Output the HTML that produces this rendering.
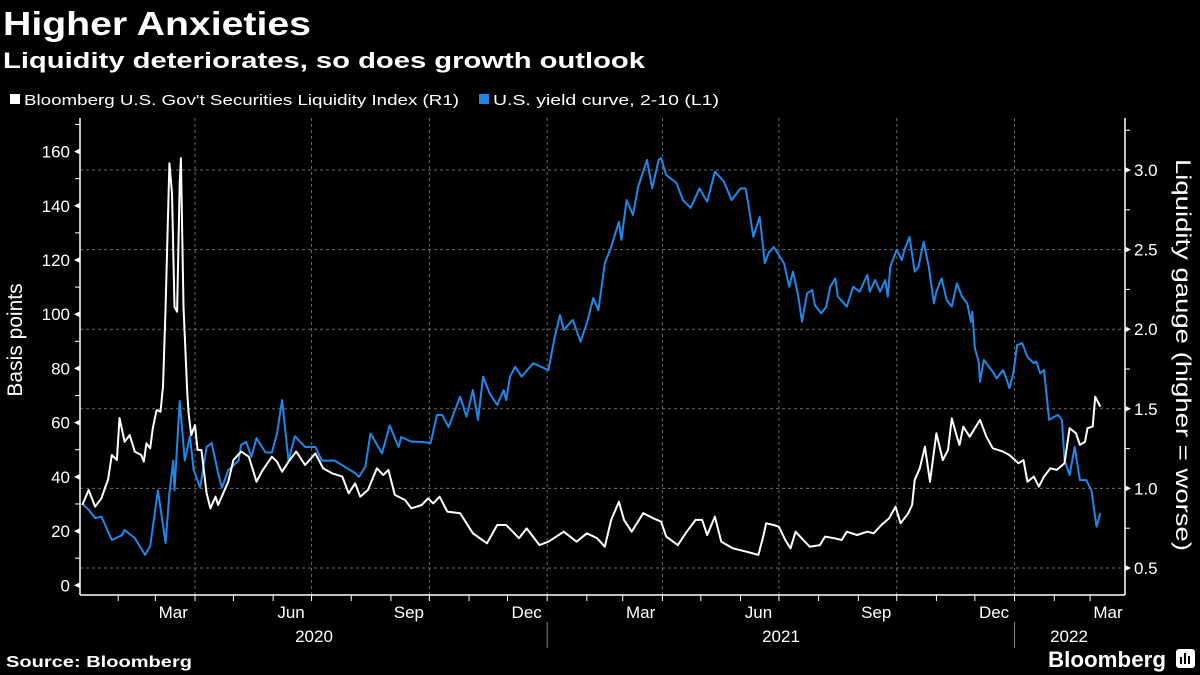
<!DOCTYPE html>
<html><head><meta charset="utf-8">
<style>
html,body{margin:0;padding:0;background:#000;}
svg{display:block;font-family:"Liberation Sans",sans-serif;}
</style></head>
<body>
<svg id="chart" width="1200" height="675" viewBox="0 0 1200 675" xmlns="http://www.w3.org/2000/svg">
<rect x="0" y="0" width="1200" height="675" fill="#000"/>
<text x="3" y="35" fill="#fff" font-size="33" font-weight="bold" textLength="308" lengthAdjust="spacingAndGlyphs">Higher Anxieties</text>
<text x="3" y="68" fill="#fff" font-size="22" font-weight="bold" textLength="642" lengthAdjust="spacingAndGlyphs">Liquidity deteriorates, so does growth outlook</text>
<g>
<g>
<rect x="10" y="94" width="10" height="10" fill="#fff"/>
<text x="24" y="105" fill="#fff" font-size="15" textLength="435" lengthAdjust="spacingAndGlyphs">Bloomberg U.S. Gov't Securities Liquidity Index (R1)</text>
</g>
<g>
<rect x="479" y="94" width="10" height="10" fill="#1f87e8"/>
<text x="493" y="105" fill="#fff" font-size="15" textLength="226" lengthAdjust="spacingAndGlyphs">U.S. yield curve, 2-10 (L1)</text>
</g>
</g>
<g id="grid"></g>
<g id="axes"></g>
<g id="series"></g>
<text transform="translate(22,340) rotate(-90)" text-anchor="middle" fill="#fff" font-size="21">Basis points</text>
<text transform="translate(1176,355) rotate(90)" text-anchor="middle" fill="#fff" font-size="21" textLength="392" lengthAdjust="spacingAndGlyphs">Liquidity gauge (higher = worse)</text>
<text x="6" y="667" fill="#fff" font-size="16" font-weight="bold" textLength="186" lengthAdjust="spacingAndGlyphs">Source: Bloomberg</text>
<text x="1048" y="667" fill="#fff" font-size="22" font-weight="bold" textLength="118" lengthAdjust="spacingAndGlyphs">Bloomberg</text>
<g>
<rect x="1176" y="649" width="19" height="19" rx="3" fill="#fff"/>
<rect x="1180" y="657" width="2" height="7" fill="#000"/><rect x="1184" y="653" width="2" height="11" fill="#000"/><rect x="1188" y="656" width="2" height="8" fill="#000"/>
</g>
</svg>
<script>
// Yield curve 2-10 (bp), days since 2020-01-01
const blueDays = [3,8,13,18,26,34,36,44,52,56,62,68,71,74,75,79,83,87,90,95,100,104,109,112,117,125,127,131,135,139,146,151,155,159,164,169,177,185,190,200,208,216,219,224,228,237,243,250,252,260,267,275,280,284,289,298,303,308,312,316,321,327,332,334,337,341,346,355,367,372,376,379,386,392,397,402,406,411,416,422,424,428,433,437,444,448,453,455,459,467,472,478,485,491,497,504,510,517,521,523,527,532,536,539,543,547,551,555,558,562,565,569,573,575,580,584,587,591,593,600,605,610,616,618,622,626,630,632,634,639,643,645,649,653,656,660,664,668,670,674,678,682,686,690,694,697,698,700,703,704,707,711,714,717,722,725,727,730,733,737,741,746,748,751,754,758,762,765,768,770,774,778,782,787,791,795,798];
const blueValues = [30.2,27.8,24.8,25.3,16.7,18.5,20.4,17.4,11.2,14.5,35,15.6,34,46,35,68,46,55,42.5,36,51,52.5,41.4,36,42.5,46,51.8,52.9,47.4,54.3,49,49,56,68.3,46,55,51,51,46,46,43.7,41.4,40,43.7,56,48.7,59,51,54.7,53,52.9,52.5,62.8,62.8,58.4,69.6,62.2,72,61,77,70.9,66.5,72,68.3,77,80.6,77,81.9,79.4,91.7,99.7,94.2,97.9,89.9,96.7,106,101.5,118.8,124.8,134.1,127.4,142.1,136.6,147,156.9,146.4,156.9,157.6,151.3,148.4,142.1,139.2,146.4,141.5,152.6,148.9,142.1,146.4,146.4,141,128.5,135.9,118.8,122.7,124.8,121.8,118.7,110.1,115.7,107,97.2,107.7,108.9,103.4,100.3,102.8,110.1,113.2,106.5,102.8,110.1,108.3,114.5,108.3,112.6,108.3,112.6,106.5,117.5,123.7,120,123.7,128.5,115.7,117.5,126.7,117.5,104,108.3,113.2,105.2,102.8,111.4,106.5,104,97.2,100.9,87.4,82.5,75.1,83.1,80.6,78.8,76.3,79.4,75.7,72.7,78.2,88.6,89.3,84.3,81.9,82.5,78.2,79.4,61,62.2,62.8,61,46.2,40.7,51.1,38.8,38.8,35,21.6,26.6];
// Liquidity index (gauge), days since 2020-01-01
const whiteDays = [3,8,13,18,21,23,26,30,32,36,40,44,49,51,53,56,58,61,64,66,68,71,73,75,77,79,80,82,85,86,88,91,93,96,100,103,107,109,113,117,121,127,133,139,144,151,155,159,164,170,177,185,191,198,206,211,216,220,226,233,238,242,247,255,260,268,273,277,282,288,298,308,319,327,334,344,350,360,367,379,389,397,405,411,416,422,426,432,441,449,455,459,468,475,482,487,491,497,502,511,522,531,535,537,543,547,552,556,560,566,571,579,583,590,596,600,608,616,621,627,633,638,642,648,651,653,657,661,665,670,675,679,682,686,688,691,696,704,709,714,722,727,734,738,741,746,750,754,759,764,770,774,779,782,786,788,792,794,798];
const whiteValues = [0.896,0.99,0.885,0.938,1.011,1.053,1.21,1.178,1.442,1.293,1.335,1.231,1.21,1.168,1.283,1.252,1.378,1.492,1.482,1.639,2.141,3.042,2.854,2.141,2.11,2.916,3.074,2.141,1.597,1.472,1.335,1.398,1.241,1.241,0.969,0.875,0.948,0.896,0.969,1.042,1.178,1.231,1.199,1.042,1.116,1.199,1.168,1.105,1.168,1.231,1.147,1.22,1.126,1.095,1.074,0.969,1.032,0.948,0.99,1.126,1.084,1.116,0.959,0.927,0.875,0.896,0.938,0.906,0.948,0.854,0.844,0.718,0.655,0.77,0.77,0.687,0.749,0.644,0.665,0.728,0.665,0.718,0.687,0.634,0.802,0.916,0.802,0.728,0.844,0.812,0.791,0.697,0.644,0.728,0.802,0.802,0.707,0.822,0.665,0.624,0.602,0.582,0.707,0.781,0.77,0.759,0.676,0.624,0.728,0.676,0.634,0.644,0.697,0.687,0.676,0.728,0.707,0.728,0.718,0.77,0.812,0.885,0.781,0.844,0.896,1.053,1.126,1.262,1.042,1.346,1.178,1.241,1.44,1.325,1.273,1.388,1.325,1.43,1.325,1.252,1.231,1.21,1.158,1.178,1.042,1.074,1.011,1.074,1.126,1.116,1.158,1.378,1.346,1.273,1.293,1.378,1.388,1.576,1.513];
const leftTicks = [0,20,40,60,80,100,120,140,160];
const rightTicks = [0.5,1.0,1.5,2.0,2.5,3.0];
const monthLabels = ["Mar","Jun","Sep","Dec","Mar","Jun","Sep","Dec","Mar"];
const monthLabelDays = [74,166,258,350,439,531,623,715,804];
const yearLabels = ["2020","2021","2022"];

const NS = "http://www.w3.org/2000/svg";
const X0 = 80, X1 = 1125, YB = 595, YT = 118;
function xDay(d){ return 78.5 + d * 1.2805; }
function yLeft(v){ return 585.3 - v * 2.711; }
function yRight(v){ return 568 - (v - 0.5) * 159.2; }
function mk(tag, attrs, parent){
  const e = document.createElementNS(NS, tag);
  for (const k in attrs) e.setAttribute(k, attrs[k]);
  parent.appendChild(e);
  return e;
}
const grid = document.getElementById('grid');
const axes = document.getElementById('axes');
const series = document.getElementById('series');

// horizontal gridlines at right ticks
rightTicks.forEach(function(v){
  const l = mk('line', {x1:X0, x2:X1, y1:yRight(v), y2:yRight(v), stroke:'#6a6a6a', 'stroke-width':1, 'stroke-dasharray':'3,3'}, grid);
  
  
});
// month boundaries (days since 2020-01-01)
const monthStarts = [];
(function(){
  const base = Date.UTC(2020,0,1);
  for (let y=2020; y<=2022; y++) for (let m=0; m<12; m++){
    const d = (Date.UTC(y,m,1) - base)/86400000;
    if (xDay(d) > X0 && xDay(d) < X1) monthStarts.push({d:d, m:m, y:y});
  }
})();
monthStarts.forEach(function(ms){
  const x = xDay(ms.d);
  const t = mk('line', {x1:x, x2:x, y1:YB, y2:YB+6, stroke:'#fff', 'stroke-width':1}, axes);
  
  
  if (ms.m % 3 === 0){
    const g = mk('line', {x1:x, x2:x, y1:YT, y2:YB, stroke:'#6a6a6a', 'stroke-width':1, 'stroke-dasharray':'3,3'}, grid);
    
    
  }
  if (ms.m === 0){
    const s = mk('line', {x1:x, x2:x, y1:622, y2:648, stroke:'#888', 'stroke-width':1}, axes);
    
    
  }
});
monthLabels.forEach(function(lbl, i){
  const t = mk('text', {x:xDay(monthLabelDays[i]), y:618, fill:'#fff', 'font-size':17, 'text-anchor':'middle'}, axes);
  t.textContent = lbl;
  
  
});
const yearX = [314, 781, 1069];
yearLabels.forEach(function(lbl, i){
  const t = mk('text', {x:yearX[i], y:642, fill:'#fff', 'font-size':17, 'text-anchor':'middle'}, axes);
  t.textContent = lbl;
  
  
});
// axis lines
const xa = mk('line', {x1:X0, x2:X1, y1:YB, y2:YB, stroke:'#fff', 'stroke-width':1.5}, axes);


const la = mk('line', {x1:X0, x2:X0, y1:YT, y2:YB, stroke:'#fff', 'stroke-width':1.5}, axes);


const ra = mk('line', {x1:X1, x2:X1, y1:YT, y2:YB, stroke:'#fff', 'stroke-width':1.5}, axes);


// left ticks
for (let v=0; v<=170; v+=10){
  const y = yLeft(v);
  if (y < YT) break;
  const major = leftTicks.indexOf(v) >= 0;
  if (major){
    const p = mk('path', {d:'M'+X0+' '+(y-3)+' L'+(X0-6)+' '+y+' L'+X0+' '+(y+3)+' Z', fill:'#fff'}, axes);
    
    
  } else {
    const p = mk('line', {x1:X0-5, x2:X0, y1:y, y2:y, stroke:'#fff', 'stroke-width':1}, axes);
    
    
  }
}
leftTicks.forEach(function(v){
  const t = mk('text', {x:X0-10, y:yLeft(v)+6, fill:'#fff', 'font-size':17, 'text-anchor':'end'}, axes);
  t.textContent = String(v);
  
  
});
// right ticks
for (let v=0.5; v<=3.3; v+=0.25){
  const y = yRight(v);
  if (y < YT) break;
  const major = Math.abs(v*2 - Math.round(v*2)) < 1e-6;
  if (major){
    const p = mk('path', {d:'M'+X1+' '+(y-3)+' L'+(X1+6)+' '+y+' L'+X1+' '+(y+3)+' Z', fill:'#fff'}, axes);
    
    
  } else {
    const p = mk('line', {x1:X1, x2:X1+5, y1:y, y2:y, stroke:'#fff', 'stroke-width':1}, axes);
    
    
  }
}
rightTicks.forEach(function(v){
  const t = mk('text', {x:X1+9, y:yRight(v)+6, fill:'#fff', 'font-size':17}, axes);
  t.textContent = v.toFixed(1);
  
  
});
// series
function pathFrom(days, vals, yf){
  return days.map(function(d,i){ return (i?'L':'M') + xDay(d).toFixed(1) + ' ' + yf(vals[i]).toFixed(1); }).join(' ');
}
const bl = mk('path', {d:pathFrom(blueDays, blueValues, yLeft), fill:'none', stroke:'#1f87e8', 'stroke-width':2, 'stroke-linejoin':'round'}, series);


const wl = mk('path', {d:pathFrom(whiteDays, whiteValues, yRight), fill:'none', stroke:'#fff', 'stroke-width':2, 'stroke-linejoin':'round'}, series);


</script>
</body></html>
